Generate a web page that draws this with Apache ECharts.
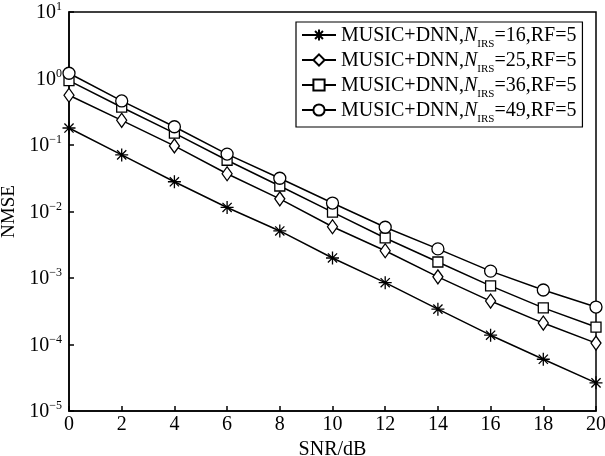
<!DOCTYPE html>
<html>
<head>
<meta charset="utf-8">
<script src="https://cdn.jsdelivr.net/npm/echarts@6/dist/echarts.min.js"></script>
<style>
  html, body { margin: 0; padding: 0; background: #fff; }
  #chart { width: 605px; height: 456px; }
</style>
</head>
<body>
<div id="chart"></div>
<script>
    // SNR points (dB)
    const snr = [0, 2, 4, 6, 8, 10, 12, 14, 16, 18, 20];
    const nmse16 = [0.18, 0.071, 0.028, 0.0115, 0.0051, 0.002, 0.00085, 0.00034, 0.000138, 0.00006, 0.0000265];
    const nmse25 = [0.56, 0.235, 0.097, 0.037, 0.0155, 0.0059, 0.00257, 0.00104, 0.00045, 0.00021, 0.000105];
    const nmse36 = [0.93, 0.37, 0.151, 0.059, 0.0242, 0.0098, 0.004, 0.00174, 0.00076, 0.000355, 0.000183];
    const nmse49 = [1.2, 0.46, 0.188, 0.073, 0.0316, 0.0134, 0.0058, 0.00274, 0.00127, 0.00066, 0.000366];
    const nirs = [16, 25, 36, 49];

    const font = 'Liberation Serif';
    const star = 'path://M0,-10L0,10M-10,0L10,0M-7.07,-7.07L7.07,7.07M-7.07,7.07L7.07,-7.07';

    const chart = echarts.init(document.getElementById('chart'));

    function pairs(ys) {
        return snr.map(function (x, i) { return [x, ys[i]]; });
    }
    function mkSeries(idx, ys, symbol, size) {
        return {
            name: 'N' + nirs[idx],
            type: 'line',
            data: pairs(ys),
            symbol: symbol,
            symbolSize: size,
            showAllSymbol: true,
            lineStyle: {color: '#000', width: 1.5},
            itemStyle: {color: '#fff', borderColor: '#000', borderWidth: 1.3},
            z: 3 + idx
        };
    }

    const option = {
        backgroundColor: '#fff',
        animation: false,
        grid: {
            left: 69, top: 12, width: 527, height: 399,
            outerBoundsMode: 'none',
            containLabel: false,
            show: true, borderColor: '#000', borderWidth: 1.5
        },
        legend: {
            orient: 'vertical',
            left: 296, top: 22,
            padding: [4, 6, 2, 5],
            itemGap: 1,
            itemWidth: 34, itemHeight: 14,
            backgroundColor: '#fff',
            borderColor: '#000', borderWidth: 1.2,
            data: ['N16', 'N25', 'N36', 'N49'],
            formatter: function (name) {
                return '{t|MUSIC+DNN,}{n|N}{s|IRS}{t|=' + name.slice(1) + ',RF=5}';
            },
            textStyle: {
                fontFamily: font, fontSize: 20, color: '#000',
                rich: {
                    t: {fontFamily: font, fontSize: 20, color: '#000', verticalAlign: 'bottom', lineHeight: 22},
                    n: {fontFamily: font, fontSize: 20, fontStyle: 'italic', color: '#000', verticalAlign: 'bottom', lineHeight: 22},
                    s: {fontFamily: font, fontSize: 11, color: '#000', verticalAlign: 'bottom', lineHeight: 12, padding: [0, 0, -4, 0]}
                }
            }
        },
        xAxis: {
            type: 'value',
            min: 0, max: 20, interval: 2,
            name: 'SNR/dB',
            nameLocation: 'middle',
            nameGap: 17,
            nameTextStyle: {fontFamily: font, fontSize: 20, color: '#000'},
            axisLine: {onZero: false, lineStyle: {color: '#000', width: 1.5}},
            axisTick: {inside: true, length: 5, lineStyle: {color: '#000', width: 1.5}},
            axisLabel: {fontFamily: font, fontSize: 20, color: '#000', margin: 4},
            splitLine: {show: false}
        },
        yAxis: {
            type: 'log',
            logBase: 10,
            min: 1e-5, max: 10,
            splitNumber: 6,
            name: 'NMSE',
            nameLocation: 'middle',
            nameGap: 40,
            nameTextStyle: {fontFamily: font, fontSize: 19, color: '#000'},
            axisLine: {onZero: false, lineStyle: {color: '#000', width: 1.5}},
            axisTick: {inside: true, length: 5, lineStyle: {color: '#000', width: 1.5}},
            axisLabel: {
                margin: 7,
                formatter: function (v) {
                    const e = Math.round(Math.log10(v));
                    return '{b|10}{e|' + String(e).replace('-', '\u2212') + '}';
                },
                rich: {
                    b: {fontFamily: font, fontSize: 20, color: '#000', verticalAlign: 'bottom', lineHeight: 22},
                    e: {fontFamily: font, fontSize: 12, color: '#000', verticalAlign: 'top', lineHeight: 22}
                }
            },
            splitLine: {show: false}
        },
        series: [
            mkSeries(0, nmse16, star, 13),
            mkSeries(1, nmse25, 'diamond', [10, 14]),
            mkSeries(2, nmse36, 'rect', 10),
            mkSeries(3, nmse49, 'circle', 12)
        ]
    };
    chart.setOption(option);
</script>
</body>
</html>
